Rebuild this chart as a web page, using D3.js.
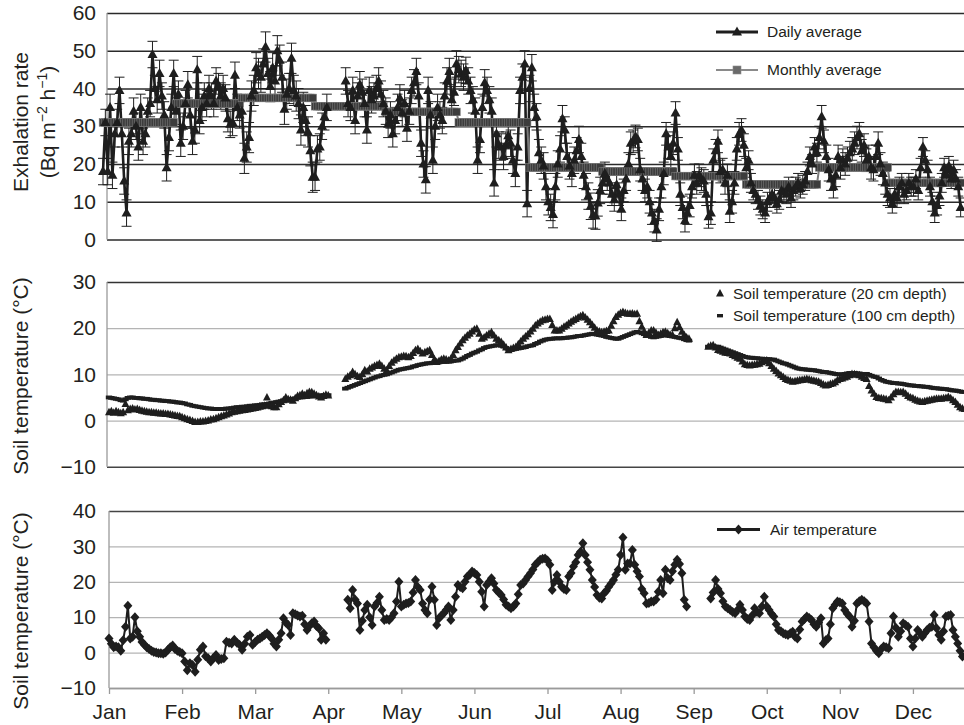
<!DOCTYPE html>
<html>
<head>
<meta charset="utf-8">
<script src="https://cdn.jsdelivr.net/npm/d3@7"></script>
<style>
  body { margin: 0; background: #fff; }
  svg { display: block; font-family: "Liberation Sans", Arial, Helvetica, sans-serif; }
</style>
</head>
<body>
<div id="chart"></div>
<script>
const months = ["Jan", "Feb", "Mar", "Apr", "May", "Jun", "Jul", "Aug", "Sep", "Oct", "Nov", "Dec"];
const daysInMonth = [31, 28, 31, 30, 31, 30, 31, 31, 30, 31, 30, 31];

// daily exhalation rate (Bq m-2 h-1), one row per month, null = no data
const exhalationDaily = [
  [18, 31, 18, 35, 17, 28, 31, 39.5, 28, 15.5, 7, 26, 28, 34, 30, 24.5, 35, 26, 28, 34, 36, 49, 40, 37, 44, 38, 33, 19, 27, 35, 44],
  [34, 38.5, 25.5, 30, 36, 41, 33, 26, 29, 45, 31.5, 35, 38, 36, 40, 38, 36, 42, 40.5, 38, 40, 37.5, 32, 30.5, 31, 43.5, 35, 33],
  [34, 21.5, 24.5, 27, 38, 39.5, 45.5, 44, 43, 46.5, 51, 44, 40.5, 45.5, 42, 50, 47.5, 43, 34.5, 38.5, 40, 48, 39.5, 38, 36, 29, 35, 31.5, 28.5, 23.5, 16.5],
  [16.5, 24, 24.5, 30, 32.5, 35, null, null, null, null, null, null, null, 42, 36, 35, 39.5, 31.5, 38, 41, 39, 36, 29, 39.5, 37, 38, 40, 42, 38.5, 36],
  [34, 30.5, 33, 28, 31.5, 35, 37.5, 33.5, 36, 29.5, 34, 39.5, 41.5, 44.5, 38, 25.5, 20, 15.8, 39.5, 33, 21, 30, 35, 33, 31.5, 38, 42, 44.5, 37, 39, 46.5],
  [45, 44, 43, 44.8, 42, 39.5, 37, 34, 21, 26.5, 35, 41.5, 39.5, 37, 34, 15, 28, 25, 24.5, 22, 25, 27.5, 25.5, 21, 17.5, 24.5, 39.5, 43, 46.5, 9.5],
  [40, 45.5, 35, 32.5, 23, 21, 19.5, 14, 10, 8.5, 6.6, 14, 20, 24, 32, 29, 22, 19.5, 17.5, 21, 23.5, 26.5, 22, 17, 14, 11.5, 8.8, 6.5, 6.2, 9.7, 13],
  [15, 17.5, 16, 15, 12, 10.5, 14.5, 12, 8, 13, 16, 20, 25.5, 26, 27.3, 26.5, 18.5, 16, 13, 14, 10, 7, 5, 2.5, 8, 14, 17.5, 28, 24.5, 22, 25.5],
  [33.5, 24, 12, 8.5, 5, 7, 9, 14, 17, 15, 17, 16, 15.5, 12, 6, 7, 21, 23.5, 26, 18, 18.5, 15, 17, 7.5, 10, 15, 24, 28, 29, 25],
  [19, 21, 15, 13, 12, 10.5, 9, 8, 7, 10, 11, 12, 11, 9.5, 10.5, 13, 12.5, 12, 14, 11, 13, 14, 15, 13.5, 14.5, 15.5, 18, 22, 20, 24.5, 23],
  [27, 32.5, 26, 22, 18.5, 16, 14, 17, 22, 19, 21, 20, 21.5, 23, 24, 25.5, 27, 28, 23.5, 25, 21, 22, 19, 18.5, 22, 25.5, 20, 17.5, 15, 12],
  [11, 9.5, 12, 11, 14, 15, 12, 13, 15, 14, 14, 16, 13, 19, 24.5, 21, 18.5, 14, 10, 7, 9, 11.5, 15, 19, 17, 19.5, 16, 18.5, 16, 14, 8.5]
];
// typical half-width of the daily error bars, per month
const exhalationError = [3.5, 3.5, 4, 3.5, 3.5, 3.5, 3.5, 3, 3, 2.5, 3, 2.5];
const exhalationMonthly = [31, 36, 37.5, 35.3, 33.8, 31, 19.1, 18, 16.8, 14.6, 19.1, 15];

// soil temperature at 20 cm depth (°C)
const soil20 = [
  [1.8, 2, 1.7, 2, 1.8, 1.6, 1.8, 3.6, 2.2, 2.5, 2.6, 2.4, 2.5, 2.3, 2.1, 2, 1.9, 1.8, 1.8, 1.7, 1.7, 1.6, 1.5, 1.5, 1.4, 1.4, 1.3, 1.2, 1.1, 1, 0.9],
  [0.7, 0.5, 0.3, 0.1, -0.1, -0.3, -0.3, -0.2, -0.2, -0.1, 0, 0.2, 0.3, 0.5, 0.7, 0.9, 1.1, 1.3, 1.5, 1.8, 1.9, 2, 2.1, 2.2, 2.3, 2.4, 2.5, 2.6],
  [2.7, 2.8, 3, 3.1, 3.2, 5, 3.3, 3.1, 2.9, 2.9, 3.5, 4, 4.4, 5, 4.6, 4.5, 4.3, 4.8, 5.3, 5.5, 5.8, 5.5, 5.9, 6.2, 6.1, 5.8, 5.5, 5.2, 5, 5.3, 5.6],
  [5.4, null, null, null, null, null, null, 9, 9.5, 9.8, 10.5, 10, 9.6, 9.4, 10, 10.9, 10.6, 11.2, 11.5, 11.8, 12, 12.3, 11.8, 11.2, 10.9, 11.8, 12.5, 13, 13.4, 13.7],
  [13.8, 14, 13.9, 13.7, 14, 14.6, 15.2, 15.5, 15, 14.5, 14.8, 15, 15.2, 14.2, 13.2, 12.7, 12.9, 13.2, 13.4, 13.2, 13, 13.4, 14.2, 15.2, 15.9, 16.7, 17.4, 17.9, 18.4, 18.8, 19.3],
  [19.7, 19.9, 18.8, 17.7, 18, 18.4, 18.8, 19.1, 18.4, 17.7, 17.4, 17, 16.4, 15.8, 15.2, 15.5, 15.7, 15.9, 16.5, 17.1, 17.7, 18.2, 18.7, 19.3, 19.9, 20.6, 21, 21.4, 21.7, 21.8],
  [22, 22, 20.7, 19.5, 19.5, 19.5, 19.9, 20.3, 20.6, 21, 21.4, 21.7, 22, 22.3, 22.6, 22.8, 22.3, 21.8, 21.3, 20.7, 20.1, 19.5, 19.3, 19.1, 19.2, 19.4, 19.5, 20.5, 21.5, 22.4, 22.9],
  [23.3, 23.5, 23.3, 23.1, 23.1, 23.2, 23, 23.1, 21.5, 20.3, 19.3, 18.5, 19, 19.5, 19.5, 19, 18.5, 18.8, 19.1, 19.2, 18.9, 18.6, 18.5, 20, 21.3, 20.2, 19.2, 18.5, 18, 17.7, null],
  [null, null, null, null, null, null, 16, 16.2, 16.3, 15.8, 15.3, 15.1, 14.9, 14.7, 14.6, 14.5, 14.2, 13.9, 13.6, 13.4, 12.8, 12.2, 12, 11.9, 12, 12.1, 12.2, 12.3, 12.6, 12.9],
  [13, 12.4, 11.8, 11.2, 10.7, 10.2, 9.8, 9.4, 9, 8.8, 8.6, 8.4, 8.5, 8.6, 8.7, 8.8, 8.9, 9, 8.9, 8.7, 8.6, 8.5, 8.4, 8.1, 7.8, 7.6, 7.7, 7.9, 8, 8.3, 8.7],
  [9, 9.1, 9.3, 9.5, 9.8, 10.1, 10, 9.9, 9.8, 9.5, 9.2, 9, 7.5, 6.5, 5.8, 5.1, 4.9, 4.8, 4.7, 4.6, 4.4, 5, 5.7, 6.2, 6.2, 6.1, 6.2, 5.8, 5.3, 5],
  [4.8, 4.5, 4.3, 4.1, 4, 4.2, 4.3, 4.4, 4.5, 4.6, 4.7, 4.7, 4.7, 4.8, 4.9, 5.1, 4.8, 4.4, 4, 3.4, 2.9, 2.6, 2.5]
];

// soil temperature at 100 cm depth (°C)
const soil100 = [
  [5, 4.9, 4.8, 4.7, 4.6, 4.4, 4.3, 4.6, 4.9, 5, 5, 4.9, 4.9, 4.8, 4.8, 4.7, 4.7, 4.6, 4.5, 4.5, 4.4, 4.4, 4.3, 4.3, 4.2, 4.2, 4.1, 4.1, 4, 3.9, 3.9],
  [3.8, 3.7, 3.5, 3.4, 3.2, 3.1, 3, 2.9, 2.8, 2.7, 2.6, 2.6, 2.5, 2.5, 2.5, 2.5, 2.5, 2.6, 2.6, 2.7, 2.8, 2.9, 2.9, 3, 3, 3.1, 3.2, 3.2],
  [3.3, 3.3, 3.4, 3.5, 3.5, 3.6, 3.7, 3.8, 3.9, 4, 4.1, 4.2, 4.3, 4.4, 4.5, 4.6, 4.7, 4.8, 4.9, 5, 5, 5.1, 5.1, 5.2, 5.2, 5.3, 5.3, 5.4, 5.4, 5.5, 5.5],
  [5.5, null, null, null, null, null, null, 6.9, 7.1, 7.3, 7.5, 7.7, 7.9, 8.1, 8.3, 8.5, 8.7, 8.9, 9.1, 9.3, 9.5, 9.6, 9.8, 9.9, 10, 10.2, 10.4, 10.6, 10.8, 11],
  [11.1, 11.2, 11.3, 11.4, 11.5, 11.7, 11.8, 12, 12.1, 12.2, 12.3, 12.4, 12.4, 12.5, 12.5, 12.6, 12.6, 12.7, 12.7, 12.7, 12.8, 12.8, 12.9, 13, 13, 13.2, 13.4, 13.7, 14, 14.2, 14.5],
  [14.7, 14.9, 15.2, 15.4, 15.7, 15.9, 16, 16.1, 16.2, 16.3, 16.3, 16.2, 16, 15.7, 15.4, 15.3, 15.4, 15.5, 15.6, 15.7, 15.8, 15.9, 16.1, 16.2, 16.3, 16.6, 16.8, 17.1, 17.3, 17.5],
  [17.6, 17.7, 17.7, 17.8, 17.8, 17.8, 17.8, 17.9, 17.9, 18, 18, 18.1, 18.2, 18.3, 18.3, 18.4, 18.5, 18.6, 18.7, 18.8, 18.7, 18.6, 18.5, 18.4, 18.3, 18.1, 18, 17.9, 17.8, 17.7, 17.7],
  [17.9, 18.1, 18.3, 18.5, 18.7, 18.9, 19.1, 19.2, 19.1, 18.9, 18.7, 18.5, 18.3, 18.1, 18, 18.1, 18.2, 18.3, 18.4, 18.5, 18.4, 18.3, 18.2, 18.1, 18, 17.9, 17.8, 17.6, 17.4, 17.3, null],
  [null, null, null, null, null, null, 16, 16, 16, 16, 16, 15.8, 15.6, 15.4, 15.2, 15, 14.8, 14.6, 14.4, 14.2, 14, 13.8, 13.7, 13.6, 13.6, 13.5, 13.5, 13.4, 13.4, 13.3],
  [13.3, 13.3, 13.2, 13.2, 13, 12.8, 12.6, 12.4, 12.3, 12.1, 11.9, 11.7, 11.5, 11.3, 11.2, 11.1, 11.1, 11, 11, 10.9, 10.9, 10.8, 10.7, 10.6, 10.5, 10.5, 10.4, 10.3, 10.2, 10.1, 10],
  [10, 10, 10.1, 10.2, 10.3, 10.3, 10.3, 10.2, 10.2, 10.1, 10.1, 10.1, 9.9, 9.7, 9.5, 9.4, 9.1, 8.8, 8.6, 8.4, 8.3, 8.2, 8.1, 8.1, 8, 8, 7.9, 7.8, 7.7, 7.6],
  [7.6, 7.5, 7.5, 7.4, 7.4, 7.3, 7.3, 7.2, 7.1, 7, 7, 6.9, 6.9, 6.8, 6.8, 6.7, 6.6, 6.5, 6.5, 6.4, 6.3, 6.2, 6.2]
];

// daily air temperature (°C)
const airTemp = [
  [4, 2.5, 1.5, 1.7, 1.5, 0.5, 3.5, 7.3, 13.2, 4, 4.5, 10, 6, 4.5, 3, 2.2, 1.5, 1, 0.5, 0.2, 0, -0.2, -0.2, -0.3, 0, 0.8, 1.5, 2, 1, 0.5, 0.2],
  [-0.2, -2.5, -5, -3, -3.5, -5.4, -2, 0.8, 1.7, -1, -1.6, -2.5, -1.5, -0.7, -2.1, -1.8, -1.6, 3.1, 2.8, 2.6, 3.6, 2.8, 2.2, 0.8, 2.5, 4.5, 5, 2.2],
  [3, 3.6, 4, 4.5, 5, 5.5, 4.8, 4, 2.5, 1.7, 3.6, 5.5, 9.7, 8.5, 7.8, 5, 11.1, 10.8, 10.5, 10.2, 10.4, 8, 6.4, 7.5, 8.3, 8.8, 7.5, 6.9, 3.6, 5.5, 3.6],
  [null, null, null, null, null, null, null, null, 14.9, 12.5, 17.7, 15, 13.9, 6.4, 9, 12, 13.5, 10, 7.8, 13, 14, 15.8, 12, 9.2, 9.5, 9.2, 10, 11.1, 14.4, 20],
  [13, 13.5, 13.9, 14, 14.4, 17, 20.5, 18.5, 17.7, 13.9, 12, 11.1, 15, 18.6, 14.9, 7.8, 9.7, 10.5, 11.1, 12, 13, 9.2, 12, 15.8, 19.1, 18.5, 18.2, 20, 21.5, 22, 22.9],
  [22.5, 21.9, 20, 17.2, 13, 19.1, 20, 21, 19.5, 17.7, 17, 16.3, 15, 13.5, 13, 12.5, 13, 13.9, 16.5, 19.1, 19.5, 20.5, 21.5, 22.4, 23.5, 24.8, 25.5, 26.2, 26.5, 26.6],
  [26, 24.8, 17.7, 20, 21.9, 20, 18.6, 18, 17.7, 21.5, 22.5, 24.3, 25.5, 27.6, 28.5, 30.9, 27.6, 25.5, 23.4, 20.5, 18.5, 16.3, 15.5, 15.3, 16.8, 17.5, 18.6, 19.5, 20.5, 22, 23.4],
  [27.6, 32.5, 23.4, 25.2, 25.2, 29, 24.8, 23, 21.5, 18, 16.8, 13.9, 14, 14.4, 14.4, 15, 17.2, 20.5, 16.8, 23.4, 21, 20.5, 23, 24.8, 26.2, 25, 22.4, 14.9, 13, null, null],
  [null, null, null, null, null, null, null, 15.3, 17, 20.5, 18, 16.8, 14.5, 13, 12.5, 12, 11.5, 11.1, 12, 13.5, 12, 10.2, 9.5, 9.2, 10.5, 12.5, 11.5, 11.1, 13, 15.8],
  [13, 12, 11, 10.2, 8, 6.4, 6, 5.5, 5.2, 5, 5.5, 5.9, 4.5, 4, 6.5, 8.8, 9.5, 10.2, 9.8, 9.2, 8, 7.3, 8.5, 9.7, 2.6, 3.5, 4, 8, 12.5, 13.5, 14.4],
  [14.2, 13.9, 12, 11, 10.2, 7.3, 9, 13.9, 14.5, 14.9, 14.5, 13.9, 8.8, 2.6, 1.5, 0.5, -0.2, 1, 1.7, 1.5, 1.2, 5.5, 10.2, 7, 4.5, 6, 8.3, 7.8, 7.3, 4],
  [1.7, 4, 6.4, 5.5, 4.5, 5.5, 6.4, 7, 7.3, 10.6, 6.9, 5, 3.6, 6, 10.2, 10.4, 10.6, 6.4, 4.5, 2.6, 0.5, -1.1, -1]
];

const exhalationTicks = [0, 10, 20, 30, 40, 50, 60];
const soilTicks = [-10, 0, 10, 20, 30];
const airTicks = [-10, 0, 10, 20, 30, 40];

// flatten month rows into day records
function toDays(rows) {
  const out = [];
  let day = 0;
  rows.forEach((row, m) => {
    row.forEach((v, i) => {
      out.push({ day: day + i, month: m + i / daysInMonth[m], m: m, value: v });
    });
    day += daysInMonth[m];
  });
  return out;
}

const width = 964;
const height = 725;
const ink = "#1e1e1e";
const textColor = "#231f20";
const fontSize = 21;

const svg = d3.select("#chart")
  .append("svg")
  .attr("width", width)
  .attr("height", height);

// the top panel is laid out on a plain day scale, the lower ones on month slots
const xDay = d3.scaleLinear().domain([0, 365]).range([103, 963]);
const xMonth = d3.scaleLinear().domain([0, 12]).range([109, 986]);

const yExh = d3.scaleLinear().domain([0, 60]).range([239.5, 13]);
const ySoil = d3.scaleLinear().domain([-10, 30]).range([466.7, 282]);
const yAir = d3.scaleLinear().domain([-10, 40]).range([688, 511]);

function drawFrame(y, ticks, left, gridColor, topColor, bottomColor) {
  const g = svg.append("g").attr("transform", `translate(${left},0)`);
  g.call(
    d3.axisLeft(y)
      .tickValues(ticks)
      .tickSize(-(width - left))
      .tickPadding(left - 96)
      .tickFormat(d3.format("d"))
  );
  g.select(".domain").remove();
  const last = ticks.length - 1;
  g.selectAll(".tick line")
    .attr("stroke", (d, i) => (i === last ? topColor : i === 0 ? bottomColor : gridColor))
    .attr("stroke-width", (d, i) => (i === last || i === 0 ? 1.6 : 1.3));
  g.selectAll(".tick text")
    .attr("fill", textColor)
    .style("font-size", fontSize + "px")
    .style("font-family", "'Liberation Sans', Arial, sans-serif");

  svg.append("line")
    .attr("x1", left).attr("x2", left)
    .attr("y1", y.range()[1]).attr("y2", y.range()[0])
    .attr("stroke", "#9a9a9a")
    .attr("stroke-width", 1.3);
}

function yLabel(x, y, lines) {
  const t = svg.append("text")
    .attr("transform", `translate(${x},${y}) rotate(-90)`)
    .attr("text-anchor", "middle")
    .attr("fill", textColor)
    .style("font-size", fontSize + "px");
  lines(t);
}

// ---------- panel 1: exhalation rate ----------
drawFrame(yExh, exhalationTicks, 107, "#2a2a2a", "#2a2a2a", "#2a2a2a");

yLabel(28, 122, (t) => t.text("Exhalation rate"));
yLabel(55, 122, (t) => {
  t.append("tspan").text("(Bq m");
  t.append("tspan").attr("baseline-shift", "super").style("font-size", "14px").text("\u22122");
  t.append("tspan").text(" h");
  t.append("tspan").attr("baseline-shift", "super").style("font-size", "14px").text("\u22121");
  t.append("tspan").text(")");
});

const exh = toDays(exhalationDaily).filter((d) => d.value != null);
const exhAll = toDays(exhalationDaily);
const monthlyDays = toDays(daysInMonth.map((n, m) => d3.range(n).map(() => exhalationMonthly[m])));

const triangle = "M0,-5.5L5,3.5L-5,3.5Z";
const smallTriangle = "M0,-4.5L4,3L-4,3Z";
const diamond = "M0,-5L4.5,0L0,5L-4.5,0Z";

const exhLine = d3.line()
  .defined((d) => d.value != null)
  .x((d) => xDay(d.day))
  .y((d) => yExh(d.value));

// error bars
const errG = svg.append("g").attr("stroke", ink).attr("stroke-width", 1);
errG.selectAll(".err")
  .data(exh)
  .join("path")
  .attr("class", "err")
  .attr("fill", "none")
  .attr("d", (d) => {
    const x = xDay(d.day);
    const e = exhalationError[d.m];
    const y0 = yExh(d.value - e);
    const y1 = yExh(d.value + e);
    return `M${x - 5},${y0}H${x + 5}M${x},${y0}V${y1}M${x - 5},${y1}H${x + 5}`;
  });

svg.append("path")
  .datum(exhAll)
  .attr("fill", "none")
  .attr("stroke", ink)
  .attr("stroke-width", 2.6)
  .attr("stroke-linejoin", "round")
  .attr("d", exhLine);

// monthly averages
svg.append("path")
  .datum(monthlyDays)
  .attr("fill", "none")
  .attr("stroke", "#7a7a7a")
  .attr("stroke-width", 2)
  .attr("d", d3.line().x((d) => xDay(d.day)).y((d) => yExh(d.value)));

svg.append("g")
  .selectAll("rect")
  .data(monthlyDays)
  .join("rect")
  .attr("x", (d) => xDay(d.day) - 3.8)
  .attr("y", (d) => yExh(d.value) - 3.8)
  .attr("width", 7.6)
  .attr("height", 7.6)
  .attr("fill", "#3c3c3c")
  .attr("stroke", "#7a7a7a")
  .attr("stroke-width", 0.6);

svg.append("g")
  .selectAll("path")
  .data(exh)
  .join("path")
  .attr("transform", (d) => `translate(${xDay(d.day)},${yExh(d.value)})`)
  .attr("d", triangle)
  .attr("fill", ink);

// legend
const leg1 = svg.append("g").style("font-size", "15.5px").attr("fill", textColor);
leg1.append("line").attr("x1", 716).attr("x2", 758).attr("y1", 32).attr("y2", 32)
  .attr("stroke", ink).attr("stroke-width", 3);
leg1.append("path").attr("transform", "translate(737,32)").attr("d", triangle).attr("fill", ink);
leg1.append("text").attr("x", 767).attr("y", 32).attr("dy", "0.35em").text("Daily average");
leg1.append("line").attr("x1", 716).attr("x2", 758).attr("y1", 70).attr("y2", 70)
  .attr("stroke", "#8a8a8a").attr("stroke-width", 2);
leg1.append("rect").attr("x", 733).attr("y", 66).attr("width", 8).attr("height", 8)
  .attr("fill", "#6a6a6a").attr("stroke", "#8c8c8c").attr("stroke-width", 0.6);
leg1.append("text").attr("x", 767).attr("y", 70).attr("dy", "0.35em").text("Monthly average");

// ---------- panel 2: soil temperature ----------
drawFrame(ySoil, soilTicks, 107, "#b4b4b4", "#333", "#444");
yLabel(28, 376, (t) => t.text("Soil temperature (\u00b0C)"));

const s100 = toDays(soil100).filter((d) => d.value != null);
const s20 = toDays(soil20).filter((d) => d.value != null);

svg.append("g")
  .selectAll("rect")
  .data(s100)
  .join("rect")
  .attr("x", (d) => xMonth(d.month) - 3.2)
  .attr("y", (d) => ySoil(d.value) - 1.9)
  .attr("width", 6.4)
  .attr("height", 3.8)
  .attr("fill", ink);

svg.append("g")
  .selectAll("path")
  .data(s20)
  .join("path")
  .attr("transform", (d) => `translate(${xMonth(d.month)},${ySoil(d.value)})`)
  .attr("d", smallTriangle)
  .attr("fill", ink);

const leg2 = svg.append("g").style("font-size", "15.5px").attr("fill", textColor);
leg2.append("path").attr("transform", "translate(720,293.5)").attr("d", smallTriangle).attr("fill", ink);
leg2.append("text").attr("x", 733).attr("y", 293.5).attr("dy", "0.35em").text("Soil temperature (20 cm depth)");
leg2.append("rect").attr("x", 717).attr("y", 314).attr("width", 6).attr("height", 3.4).attr("fill", ink);
leg2.append("text").attr("x", 733).attr("y", 315.7).attr("dy", "0.35em").text("Soil temperature (100 cm depth)");

// ---------- panel 3: air temperature ----------
drawFrame(yAir, airTicks, 109, "#b4b4b4", "#444", "#9a9a9a");
yLabel(28, 611, (t) => t.text("Soil temperature (\u00b0C)"));

const xAxis = svg.append("g")
  .attr("transform", `translate(0,${yAir(-10)})`)
  .call(
    d3.axisBottom(xMonth)
      .tickValues(d3.range(12))
      .tickFormat((i) => months[i])
      .tickSize(6)
      .tickSizeOuter(0)
      .tickPadding(10)
  );
xAxis.select(".domain").attr("stroke", "#9a9a9a").attr("stroke-width", 1.3);
xAxis.selectAll(".tick line").attr("stroke", "#9a9a9a").attr("stroke-width", 1.3);
xAxis.selectAll(".tick text")
  .attr("fill", textColor)
  .style("font-size", fontSize + "px")
  .style("font-family", "'Liberation Sans', Arial, sans-serif");

const air = toDays(airTemp);
svg.append("path")
  .datum(air)
  .attr("fill", "none")
  .attr("stroke", ink)
  .attr("stroke-width", 2)
  .attr("d", d3.line()
    .defined((d) => d.value != null)
    .x((d) => xMonth(d.month))
    .y((d) => yAir(d.value)));

svg.append("g")
  .selectAll("path")
  .data(air.filter((d) => d.value != null))
  .join("path")
  .attr("transform", (d) => `translate(${xMonth(d.month)},${yAir(d.value)})`)
  .attr("d", diamond)
  .attr("fill", ink);

const leg3 = svg.append("g").style("font-size", "15.5px").attr("fill", textColor);
leg3.append("line").attr("x1", 717).attr("x2", 760).attr("y1", 529.5).attr("y2", 529.5)
  .attr("stroke", ink).attr("stroke-width", 3);
leg3.append("path").attr("transform", "translate(738.5,529.5)").attr("d", diamond).attr("fill", ink);
leg3.append("text").attr("x", 770).attr("y", 529.5).attr("dy", "0.35em").text("Air temperature");
</script>
</body>
</html>
